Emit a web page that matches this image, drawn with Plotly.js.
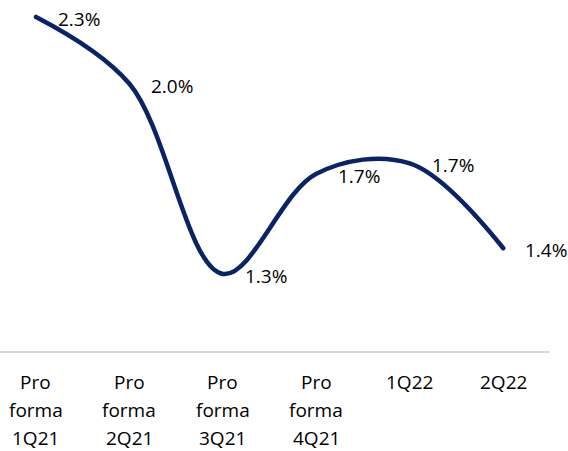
<!DOCTYPE html>
<html>
<head>
<meta charset="utf-8">
<script src="https://cdn.plot.ly/plotly-3.0.1.min.js"></script>
<style>
html,body{margin:0;padding:0;background:#fff;}
#chart{width:568px;height:451px;}
.js-line{stroke-linecap:round !important;}
</style>
</head>
<body>
<div id="chart"></div>
<script>
const categories = ["PF1Q21", "PF2Q21", "PF3Q21", "PF4Q21", "1Q22", "2Q22"];
const tickLabels = ["Pro<br>forma<br>1Q21", "Pro<br>forma<br>2Q21", "Pro<br>forma<br>3Q21", "Pro<br>forma<br>4Q21", "1Q22", "2Q22"];
const values = [2.30, 2.04, 1.30, 1.69, 1.73, 1.40];
const valueLabels = ["2.3%", "2.0%", "1.3%", "1.7%", "1.7%", "1.4%"];

const FONT = "Open Sans, Noto Sans, sans-serif";

const trace = {
  x: categories,
  y: values,
  type: "scatter",
  mode: "lines",
  line: {color: "#0a2463", width: 4.5, shape: "spline", smoothing: 1},
  hoverinfo: "none"
};

const annotations = categories.map((c, i) => ({
  x: c, y: values[i], xref: "x", yref: "y",
  text: valueLabels[i], showarrow: false,
  xanchor: "left", yanchor: "middle",
  xshift: 21, yshift: -2, borderpad: 0,
  font: {family: FONT, size: 19, color: "#000"}
}));

// category labels, one annotation per text line for Excel-like line spacing
categories.forEach((c, i) => {
  tickLabels[i].split("<br>").forEach((line, j) => {
    annotations.push({
      x: c, y: 0, xref: "x", yref: "paper",
      text: line, showarrow: false,
      xanchor: "center", yanchor: "middle",
      yshift: -(31 + j * 28), borderpad: 0,
      font: {family: FONT, size: 19, color: "#000"}
    });
  });
});

const layout = {
  width: 568, height: 451,
  margin: {l: 0, r: 18, t: 0, b: 100},
  paper_bgcolor: "#fff", plot_bgcolor: "#fff",
  showlegend: false,
  xaxis: {
    type: "category",
    range: [-0.385, 5.5],
    tickvals: categories, ticktext: tickLabels,
    showticklabels: false,
    showgrid: false, zeroline: false,
    showline: true, linecolor: "#d9d9d9", linewidth: 1.5,
    ticks: "", fixedrange: true
  },
  yaxis: {
    range: [1.0, 2.366],
    showgrid: false, zeroline: false, showline: false,
    showticklabels: false, ticks: "", fixedrange: true
  },
  annotations: annotations
};

Plotly.newPlot("chart", [trace], layout, {displayModeBar: false, staticPlot: true});
</script>
</body>
</html>
